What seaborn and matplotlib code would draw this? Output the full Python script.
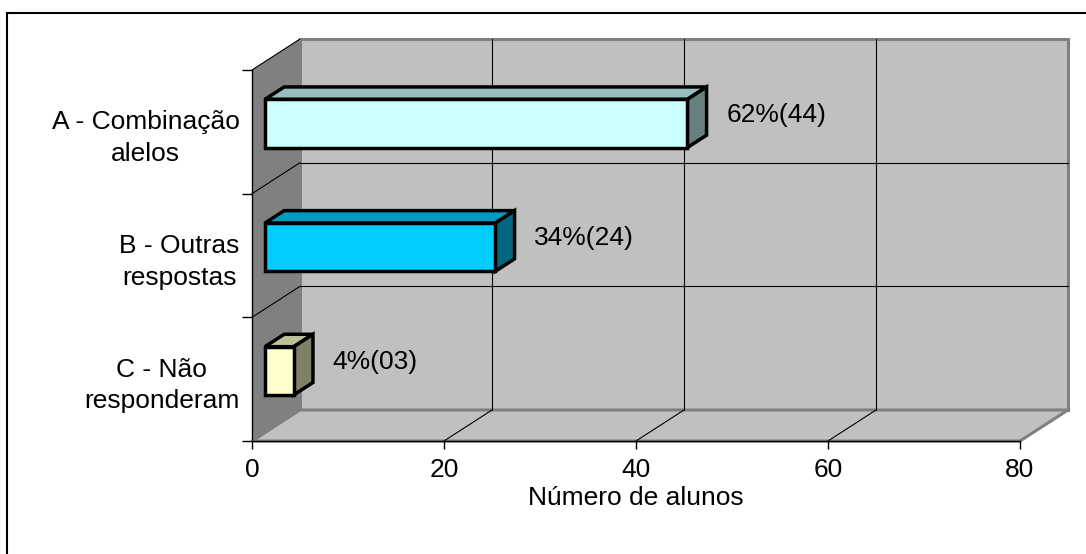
import numpy as np
import pandas as pd
import seaborn as sns
import matplotlib
matplotlib.use("Agg")
import matplotlib.pyplot as plt
from matplotlib import transforms as mtransforms
from matplotlib.colors import to_rgb
from matplotlib.patches import Polygon, Rectangle
from matplotlib.lines import Line2D

# --- data -------------------------------------------------------------
categorias = ["A - Combinação\nalelos", "B - Outras\nrespostas", "C - Não\nresponderam"]
alunos = [44, 24, 3]
percentuais = [62, 34, 4]
x_ticks = [0, 20, 40, 60, 80]
cores_frente = ["#CCFFFF", "#00CCFF", "#FFFFCC"]

# --- style ------------------------------------------------------------
sns.set_theme(style="white")
plt.rcParams["font.family"] = ["Liberation Sans", "DejaVu Sans"]
plt.rcParams["text.color"] = "black"
plt.rcParams["xtick.color"] = "black"
plt.rcParams["ytick.color"] = "black"
plt.rcParams["axes.labelcolor"] = "black"
FS = 19

W, H = 1086, 554
fig = plt.figure(figsize=(W / 100, H / 100), dpi=100)
ax = fig.add_axes([252 / W, (H - 441) / H, 768 / W, 371 / H])
ax.set_facecolor("none")

df = pd.DataFrame({"resposta": categorias, "alunos": alunos})
sns.barplot(data=df, x="alunos", y="resposta", hue="resposta",
            palette=cores_frente, orient="h", width=0.39, saturation=1,
            edgecolor="black", linewidth=2.5, legend=False, ax=ax, zorder=6)
bars = [p for p in ax.patches if isinstance(p, Rectangle) and p.get_width() > 0]

ax.set_xlim(0, 80)
ax.set_ylim(2.5, -0.5)

# depth of the 3-D box (pixels) and depth slice occupied by the bars
DX, DY = 48, 31
D0, D1 = 0.27, 0.67
ident = mtransforms.IdentityTransform()


def proj(x, y, d):
    px, py = ax.transData.transform((x, y))
    return (px + d * DX, py + d * DY)


def face(pts, fc, ec="none", lw=0, z=1):
    p = Polygon(pts, closed=True, facecolor=fc, edgecolor=ec, linewidth=lw,
                transform=ident, clip_on=False, zorder=z, joinstyle="miter")
    ax.add_artist(p)
    return p


y_top, y_bot = -0.5, 2.5
x_min, x_max = 0, 80
wall = "#C0C0C0"
wall_edge = "#808080"

# back wall, side wall and floor
face([proj(x_min, y_top, 1), proj(x_max, y_top, 1), proj(x_max, y_bot, 1), proj(x_min, y_bot, 1)],
     wall, wall_edge, 2.2, z=0.2)
face([proj(x_min, y_top, 0), proj(x_min, y_top, 1), proj(x_min, y_bot, 1), proj(x_min, y_bot, 0)],
     "#808080", z=0.3)
face([proj(x_min, y_bot, 0), proj(x_max, y_bot, 0), proj(x_max, y_bot, 1), proj(x_min, y_bot, 1)],
     wall, wall_edge, 2.2, z=0.25)


def seg(a, b, color="black", lw=0.8, z=0.5):
    ax.add_artist(Line2D([a[0], b[0]], [a[1], b[1]], color=color, lw=lw,
                         transform=ident, clip_on=False, zorder=z))


# gridlines on walls and floor
for v in x_ticks[1:-1]:
    seg(proj(v, y_top, 1), proj(v, y_bot, 1))
    seg(proj(v, y_bot, 0), proj(v, y_bot, 1))
for yb in [0.5, 1.5]:
    seg(proj(x_min, yb, 1), proj(x_max, yb, 1))
    seg(proj(x_min, yb, 0), proj(x_min, yb, 1))
seg(proj(x_min, y_top, 0), proj(x_min, y_top, 1))

# bars: shift the front faces into depth, then add top and side faces
front_tr = mtransforms.offset_copy(ax.transData, fig=fig, x=D0 * DX, y=D0 * DY, units="dots")
for bar in bars:
    bar.set_transform(front_tr)
    bar.set_joinstyle("miter")
    x0 = bar.get_x()
    x1 = x0 + bar.get_width()
    ya, yb = bar.get_y(), bar.get_y() + bar.get_height()
    yt, ybt = min(ya, yb), max(ya, yb)
    rgb = np.array(to_rgb(bar.get_facecolor()))
    face([proj(x0, yt, D0), proj(x1, yt, D0), proj(x1, yt, D1), proj(x0, yt, D1)],
         rgb * 0.75, "black", 2.5, z=5)
    face([proj(x1, yt, D0), proj(x1, ybt, D0), proj(x1, ybt, D1), proj(x1, yt, D1)],
         rgb * 0.5, "black", 2.5, z=5)

# value labels
label_tr = mtransforms.offset_copy(ax.transData, fig=fig, x=52, y=17, units="dots")
for i, (n, p) in enumerate(zip(alunos, percentuais)):
    ax.text(n, i, f"{p}%({n:02d})", transform=label_tr, ha="left", va="center",
            fontsize=FS, color="black", zorder=7)

# axes
for s in ["top", "right"]:
    ax.spines[s].set_visible(False)
for s in ["left", "bottom"]:
    ax.spines[s].set_color("black")
    ax.spines[s].set_linewidth(1.0)
    ax.spines[s].set_zorder(3)

ax.set_xticks(x_ticks)
ax.set_yticks(range(len(categorias)))
ax.set_yticklabels(categorias)
ax.set_yticks([-0.5, 0.5, 1.5, 2.5], minor=True)
ax.tick_params(axis="both", which="both", direction="out", color="black", width=1.0,
               labelcolor="black")
ax.tick_params(axis="x", which="major", bottom=True, length=6, pad=6, labelsize=FS)
ax.tick_params(axis="y", which="major", left=True, length=0, pad=9, labelsize=FS)
ax.tick_params(axis="y", which="minor", left=True, length=7)
for lbl in ax.get_yticklabels():
    lbl.set_multialignment("center")
    lbl.set_linespacing(1.4)
ax.set_ylabel("")
ax.set_xlabel("Número de alunos", fontsize=FS, labelpad=3, color="black")

# frame around the chart
fig.add_artist(Line2D([7 / W, 1.05], [1 - 13 / H] * 2, transform=fig.transFigure, color="black", lw=1.5))
fig.add_artist(Line2D([7 / W, 7 / W], [1 - 13 / H, -0.05], transform=fig.transFigure, color="black", lw=1.5))

fig.savefig("out.png", dpi=100, facecolor="white")
